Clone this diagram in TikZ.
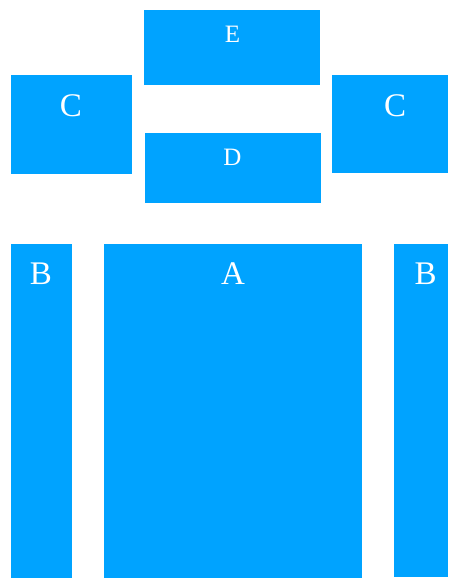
\documentclass[tikz,border=0pt]{standalone}
\usepackage{fontspec}
\setmainfont{Liberation Serif}
\definecolor{boxblue}{RGB}{0,163,255}
\tikzset{
  blk/.style={fill=boxblue, draw=none},
  biglbl/.style={text=white, anchor=base, inner sep=0pt, font=\fontsize{33}{38}\selectfont},
  smalllbl/.style={text=white, anchor=base, inner sep=0pt, font=\fontsize{25}{29}\selectfont}
}
\begin{document}
\begin{tikzpicture}[x=1pt,y=-1pt]
\useasboundingbox (0,0) rectangle (448,578);
% boxes
\path[blk] (144,10) rectangle (320,84.7);
\path[blk] (11,75) rectangle (132,174.3);
\path[blk] (332,75) rectangle (448,172.7);
\path[blk] (145,133) rectangle (321,202.7);
\path[blk] (11,244) rectangle (72,578);
\path[blk] (104,244) rectangle (362,578);
\path[blk] (394,244) rectangle (448,577);
% labels
\node[smalllbl] (e) at (232.5,42.7) {E};
\node[smalllbl] (d) at (232.5,165.7) {D};
\node[biglbl] (cl) at (71,116) {C};
\node[biglbl] (cr) at (395,116) {C};
\node[biglbl] (bl) at (41,284.5) {B};
\node[biglbl] (a) at (233,284.5) {A};
\node[biglbl] (br) at (425.7,284.5) {B};
\end{tikzpicture}
\end{document}
